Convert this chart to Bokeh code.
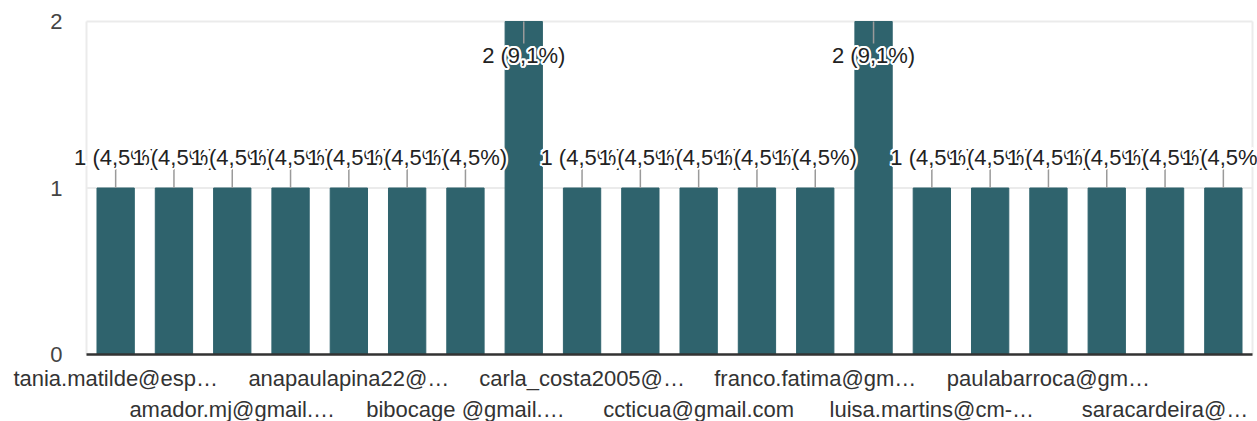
import math
from bokeh.plotting import figure
from bokeh.models import Range1d, FixedTicker, ColumnDataSource, LinearAxis
from bokeh.core.properties import value
from bokeh.embed import file_html
from bokeh.resources import INLINE

# ---- data ----
categories = [
    "tania.matilde@esp…", "", "amador.mj@gmail.…", "", "anapaulapina22@…", "",
    "bibocage @gmail.…", "", "carla_costa2005@…", "", "ccticua@gmail.com", "",
    "franco.fatima@gm…", "", "luisa.martins@cm-…", "", "paulabarroca@gm…", "",
    "saracardeira@…", "",
]
counts = [1, 1, 1, 1, 1, 1, 1, 2, 1, 1, 1, 1, 1, 2, 1, 1, 1, 1, 1, 1]
y_ticks = [0, 1, 2]

FONT = "Liberation Sans"
BAR = "#2f636d"
GRID = "#ebebeb"

total = sum(counts)
n = len(categories)
idx = list(range(n))
ymax = max(y_ticks)
labels = [f"{c} ({c / total * 100:.1f}%)".replace(".", ",") for c in counts]

# ---- layout in pixels (the frame fills the whole canvas) ----
W, H = 1257, 421
TOP = 21                   # pixel row of y = ymax
BASE = 354                 # pixel row of y = 0
PLOT_L, PLOT_R = 86, 1252  # pixel columns of the category band edges
ppu = (BASE - TOP) / ymax          # px per y unit
ppx = (PLOT_R - PLOT_L) / n        # px per category
x0, x1 = -0.5, n - 0.5
x_start = x0 - PLOT_L / ppx
x_end = x1 + (W - PLOT_R) / ppx
y_start = -(H - BASE) / ppu
y_end = ymax + TOP / ppu

lab_y, lead_y0, lead_y1 = [], [], []
for c in counts:
    if c >= ymax:
        lab_y.append(c - 34 / ppu)
        lead_y0.append(c)
        lead_y1.append(c - 22 / ppu)
    else:
        lab_y.append(c + 31 / ppu)
        lead_y0.append(c)
        lead_y1.append(c + 19 / ppu)

bar_src = ColumnDataSource(dict(x=idx, top=counts, y0=lead_y0, y1=lead_y1))

# labels with a white halo: for each label, white copies around it, then the dark text
halo = [(2.2 * math.cos(a * math.pi / 6), 2.2 * math.sin(a * math.pi / 6)) for a in range(12)]
tx, ty, tt, tc, ox, oy = [], [], [], [], [], []
for i in idx:
    for dx, dy in halo + [(0, 0)]:
        tx.append(i)
        ty.append(lab_y[i])
        tt.append(labels[i])
        ox.append(dx)
        oy.append(dy)
        tc.append("#222222" if (dx, dy) == (0, 0) else "#ffffff")
txt_src = ColumnDataSource(dict(x=tx, y=ty, text=tt, color=tc, ox=ox, oy=oy))

p = figure(width=W, height=H, x_range=Range1d(x_start, x_end),
           y_range=Range1d(y_start, y_end), output_backend="svg", toolbar_location=None,
           min_border_left=0, min_border_top=0, min_border_right=0, min_border_bottom=0)
p.background_fill_color = "white"
p.border_fill_color = "white"
p.outline_line_color = None
p.xgrid.visible = False
p.ygrid.visible = False

# plot-area lines: horizontal grid at the y ticks, vertical edges of the band
p.segment(x0=[x0] * len(y_ticks), y0=y_ticks, x1=[x1] * len(y_ticks), y1=y_ticks,
          line_color=GRID, line_width=2)
p.segment(x0=[x0, x1], y0=[0, 0], x1=[x0, x1], y1=[ymax, ymax], line_color=GRID, line_width=2)

p.vbar(x="x", top="top", width=0.64, color=BAR, source=bar_src)
p.segment(x0="x", y0="y0", x1="x", y1="y1", line_color="#9a9a9a", line_width=1.5, source=bar_src)
# baseline (x axis line)
p.segment(x0=[x0], y0=[0], x1=[x1], y1=[0], line_color="#333333", line_width=2.5)

p.text(x="x", y="y", text="text", x_offset="ox", y_offset="oy", source=txt_src,
       text_align="center", text_baseline="alphabetic", text_font=value(FONT),
       text_font_size="22px", text_color="color")

# y axis, pinned at the left band edge
ya = p.yaxis[0]
ya.fixed_location = x0
ya.ticker = FixedTicker(ticks=y_ticks)
ya.axis_line_color = None
ya.major_tick_line_color = None
ya.minor_tick_line_color = None
ya.major_tick_out = 0
ya.major_tick_in = 0
ya.major_label_standoff = 24
ya.major_label_text_font = FONT
ya.major_label_text_font_size = "22px"
ya.major_label_text_color = "#444444"

# x axes, pinned at y = 0: two staggered rows of category labels
row1 = [i for i in idx if categories[i] and (i // 2) % 2 == 0]
row2 = [i for i in idx if categories[i] and (i // 2) % 2 == 1]

def cat_axis(axis, ticks, standoff):
    axis.fixed_location = 0
    axis.ticker = FixedTicker(ticks=ticks)
    axis.major_label_overrides = {i: categories[i] for i in ticks}
    axis.axis_line_color = None
    axis.major_tick_line_color = None
    axis.minor_tick_line_color = None
    axis.major_tick_out = 0
    axis.major_tick_in = 0
    axis.major_label_standoff = standoff
    axis.major_label_text_font = FONT
    axis.major_label_text_font_size = "22px"
    axis.major_label_text_color = "#333333"

cat_axis(p.xaxis[0], row1, 11)
xb = LinearAxis()
cat_axis(xb, row2, 42)
p.add_layout(xb, "below")

open("out.html", "w").write(file_html(p, INLINE))
